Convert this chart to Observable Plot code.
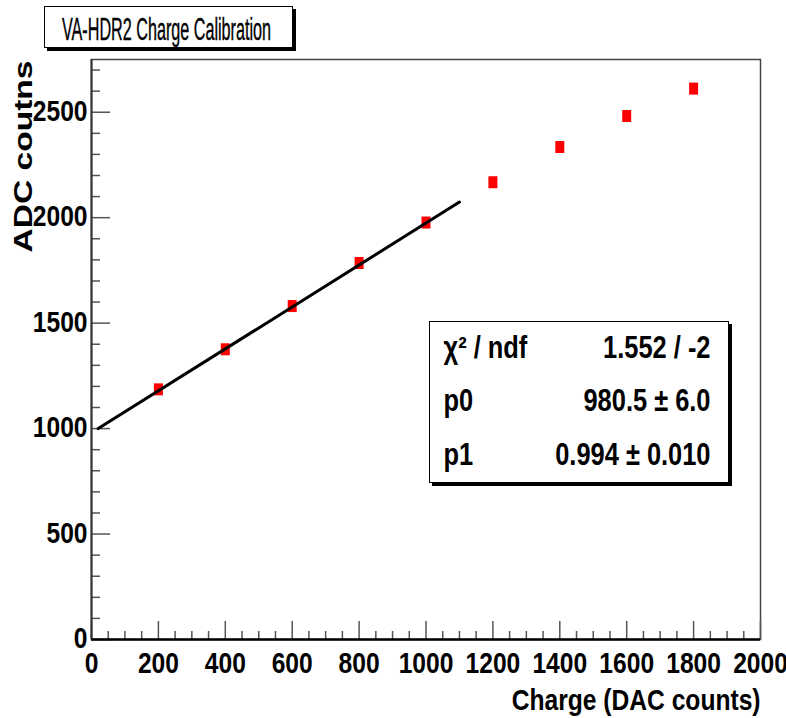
<!DOCTYPE html>
<html><head><meta charset="utf-8">
<script src="https://cdn.jsdelivr.net/npm/d3@7"></script>
<script src="https://cdn.jsdelivr.net/npm/@observablehq/plot@0.6"></script>
<style>body{margin:0;background:#fff} svg{display:block}</style>
</head><body><div id="chart"></div>
<script>
// ---- data ----
const title = "VA-HDR2 Charge Calibration";
const xTitle = "Charge (DAC counts)";
const yTitle = "ADC coutns";
const charge = [200, 400, 600, 800, 1000, 1200, 1400, 1600, 1800];
const adc = [1186, 1376, 1581, 1785, 1977, 2168, 2335, 2482, 2612];
const fitX = [20, 1100];
const fitY = [1000, 2074];
const xMajor = [0, 200, 400, 600, 800, 1000, 1200, 1400, 1600, 1800, 2000];
const xLabels = ["0", "200", "400", "600", "800", "1000", "1200", "1400", "1600", "1800", "2000"];
const xMinor = d3.range(0, 2001, 50).filter(v => v % 200 !== 0);
const yMajor = [0, 500, 1000, 1500, 2000, 2500];
const yLabels = ["0", "500", "1000", "1500", "2000", "2500"];
const yMinor = d3.range(0, 2701, 100).filter(v => v % 500 !== 0);
const statNames = ["χ² / ndf", "p0", "p1"];
const statValues = ["1.552 / -2", "980.5 ± 6.0", "0.994 ± 0.010"];

// ---- layout ----
const W = 786, H = 718;
const mL = 91, mR = 26, mT = 59, mB = 79;
const plotW = W - mL - mR, plotH = H - mT - mB;
const xPerPx = 2000 / plotW, yPerPx = 2750 / plotH;
const NARROW = "Arial, 'Liberation Sans', sans-serif";   // condensed afterwards
const WIDE = "'Liberation Sans', Arial, sans-serif";
const SQUEEZE = 0.82;

const rectSymbol = {draw(ctx) { ctx.rect(-4.5, -6, 9, 12); }};
const statRowCenters = [348, 401, 455];

const chart = Plot.plot({
  width: W, height: H,
  marginLeft: mL, marginRight: mR, marginTop: mT, marginBottom: mB,
  x: {domain: [0, 2000], axis: null},
  y: {domain: [0, 2750], axis: null},
  style: {background: "white", overflow: "hidden"},
  marks: [
    // title box with shadow
    Plot.frame({insetLeft: 47 - mL, insetRight: mL + plotW - 295, insetTop: 9 - mT, insetBottom: mT + plotH - 50, fill: "black", stroke: "black"}),
    Plot.frame({insetLeft: 44 - mL, insetRight: mL + plotW - 292, insetTop: 6 - mT, insetBottom: mT + plotH - 47, fill: "white", stroke: "black", strokeWidth: 1}),
    Plot.text([title], {text: d => d, frameAnchor: "top-left", dx: 166 - mL, dy: 39 - mT, textAnchor: "middle", lineAnchor: "bottom", fontSize: 31, fontFamily: WIDE, fill: "black", stroke: "black", strokeWidth: 0.4}),
    // frame
    Plot.frame({stroke: "#444", strokeWidth: 1.5}),
    // ticks (inward)
    Plot.ruleX(xMajor, {x: d => d, y1: 0, y2: 18 * yPerPx, stroke: "#555", strokeWidth: 1.5}),
    Plot.ruleX(xMinor, {x: d => d, y1: 0, y2: 8 * yPerPx, stroke: "#555", strokeWidth: 1.5}),
    Plot.ruleY(yMajor, {y: d => d, x1: 0, x2: 19 * xPerPx, stroke: "#555", strokeWidth: 1.5}),
    Plot.ruleY(yMinor, {y: d => d, x1: 0, x2: 9 * xPerPx, stroke: "#555", strokeWidth: 1.5}),
    Plot.ruleY([0], {stroke: "black", strokeWidth: 2.5}),
    Plot.ruleX([0], {stroke: "#333", strokeWidth: 2}),
    // tick labels
    Plot.text(xMajor, {x: d => d, y: 0, text: (d, i) => xLabels[i], dy: 33, lineAnchor: "bottom", textAnchor: "middle", fontSize: 30, fontWeight: "bold", fontFamily: NARROW, fill: "black"}),
    Plot.text(yMajor, {x: 0, y: d => d, text: (d, i) => yLabels[i], dx: -4, dy: -1, lineAnchor: "middle", textAnchor: "end", fontSize: 30, fontWeight: "bold", fontFamily: NARROW, fill: "black"}),
    // axis titles
    Plot.text([xTitle], {text: d => d, frameAnchor: "bottom-right", dx: 0, dy: 70, textAnchor: "end", lineAnchor: "bottom", fontSize: 30, fontWeight: "bold", fontFamily: NARROW, fill: "black"}),
    Plot.text([yTitle], {text: d => d, frameAnchor: "top-left", dx: 31 - mL, dy: 60 - mT, rotate: -90, textAnchor: "end", lineAnchor: "bottom", fontSize: 25, fontWeight: "bold", fontFamily: WIDE, fill: "black"}),
    // data
    Plot.dot(charge, {x: d => d, y: (d, i) => adc[i], symbol: rectSymbol, fill: "#ff0000", stroke: "none"}),
    Plot.line(fitX, {x: d => d, y: (d, i) => fitY[i], stroke: "black", strokeWidth: 3}),
    // stats box
    Plot.frame({insetLeft: 432 - mL, insetRight: mL + plotW - 731, insetTop: 324 - mT, insetBottom: mT + plotH - 485, fill: "black", stroke: "black"}),
    Plot.frame({insetLeft: 429 - mL, insetRight: mL + plotW - 728, insetTop: 321 - mT, insetBottom: mT + plotH - 482, fill: "white", stroke: "black", strokeWidth: 1}),
    ...statNames.map((s, i) => Plot.text([s], {text: d => d, frameAnchor: "top-left", dx: 443 - mL, dy: statRowCenters[i] - mT, textAnchor: "start", lineAnchor: "middle", fontSize: 31, fontWeight: "bold", fontFamily: NARROW, fill: "black"})),
    ...statValues.map((s, i) => Plot.text([s], {text: d => d, frameAnchor: "top-left", dx: 710 - mL, dy: statRowCenters[i] - mT, textAnchor: "end", lineAnchor: "middle", fontSize: 31, fontWeight: "bold", fontFamily: NARROW, fill: "black"}))
  ]
});

document.getElementById("chart").appendChild(chart);

// fit text widths to the reference's condensed lettering
const widths = {[title]: 209, [yTitle]: 192};
chart.querySelectorAll("text").forEach(t => {
  let w = widths[t.textContent];
  if (!w) {
    const g = t.closest("[font-family]");
    if (g && g.getAttribute("font-family").startsWith("Arial")) w = t.getComputedTextLength() * SQUEEZE;
  }
  if (w) { t.setAttribute("textLength", w); t.setAttribute("lengthAdjust", "spacingAndGlyphs"); }
});
</script></body></html>
